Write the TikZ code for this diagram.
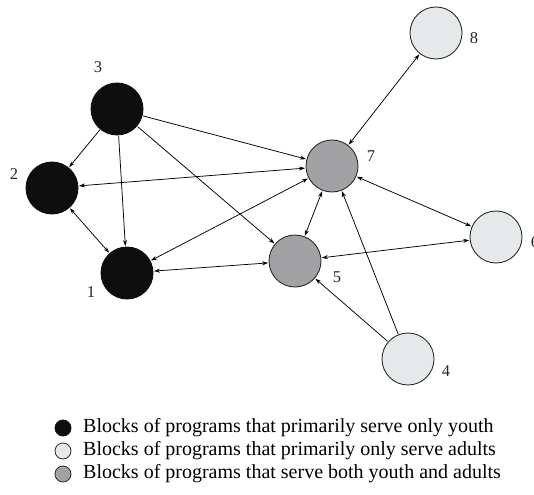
\documentclass[tikz,border=0pt]{standalone}
\usepackage{fontspec}
\setmainfont{Liberation Serif}
\usetikzlibrary{arrows.meta}
\definecolor{youth}{HTML}{0E0E0F}
\definecolor{adult}{HTML}{E6E9EA}
\definecolor{both}{HTML}{A2A2A5}
\definecolor{rim}{HTML}{2A2A2A}
\tikzset{
  blk/.style={circle, minimum size=52pt, inner sep=0pt, outer sep=1pt, draw=rim, line width=0.9pt},
  yb/.style={blk, fill=youth, draw=youth},
  ab/.style={blk, fill=adult},
  bb/.style={blk, fill=both},
  lab/.style={font=\fontsize{16.5}{16.5}\selectfont, text=black!85},
  edge/.style={line width=0.75pt, -{Stealth[length=6pt,width=4pt]}},
  bedge/.style={line width=0.75pt, {Stealth[length=6pt,width=4pt]}-{Stealth[length=6pt,width=4pt]}},
  legc/.style={circle, minimum size=16pt, inner sep=0pt, draw=rim, line width=0.8pt},
  legt/.style={anchor=west, font=\fontsize{20}{20}\selectfont, inner sep=0pt}
}
\begin{document}
\begin{tikzpicture}[x=1pt,y=-1pt]
\useasboundingbox (0,0) rectangle (534,494);
% nodes
\node[yb] (n3) at (117,109) {};
\node[yb] (n2) at (52,188) {};
\node[yb] (n1) at (127,273) {};
\node[bb] (n7) at (332,166) {};
\node[bb] (n5) at (295,261) {};
\node[ab] (n6) at (496,237) {};
\node[ab] (n8) at (436,33) {};
\node[ab] (n4) at (408,359) {};
% labels
\node[lab] (l3) at (98,67) {3};
\node[lab] (l2) at (14,174) {2};
\node[lab] (l1) at (91,292) {1};
\node[lab] (l7) at (371,156) {7};
\node[lab] (l5) at (337,277) {5};
\node[lab] (l8) at (474,38) {8};
\node[lab] (l4) at (446,371) {4};
\node[lab] (l6) at (535,242) {6};
% edges
\draw[edge] (n3) -- (n2);
\draw[edge] (n3) -- (n1);
\draw[edge] (n3) -- (n7);
\draw[edge] (n3) -- (n5);
\draw[bedge] (n2) -- (n7);
\draw[bedge] (n2) -- (n1);
\draw[bedge] (n1) -- (n7);
\draw[bedge] (n1) -- (n5);
\draw[bedge] (n5) -- (n7);
\draw[bedge] (n7) -- (n6);
\draw[bedge] (n5) -- (n6);
\draw[bedge] (n7) -- (n8);
\draw[edge] (n4) -- (n5);
\draw[edge] (n4) -- (n7);
% legend
\node[legc, fill=youth, draw=youth] (c1) at (63,428) {};
\node[legc, fill=adult] (c2) at (63,451) {};
\node[legc, fill=both] (c3) at (63,474) {};
\node[legt] (t1) at (83,428) {Blocks of programs that primarily serve only youth};
\node[legt] (t2) at (83,451) {Blocks of programs that primarily only serve adults};
\node[legt] (t3) at (83,474) {Blocks of programs that serve both youth and adults};
\end{tikzpicture}
\end{document}
